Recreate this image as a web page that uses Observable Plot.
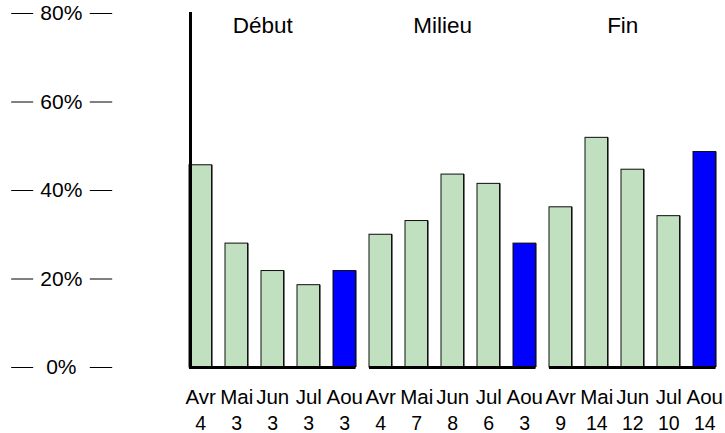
<!DOCTYPE html>
<html>
<head>
<meta charset="utf-8">
<script src="https://cdn.jsdelivr.net/npm/d3@7"></script>
<script src="https://cdn.jsdelivr.net/npm/@observablehq/plot@0.6"></script>
<style>
  html, body { margin: 0; padding: 0; background: #fff; }
  #chart { width: 725px; height: 433px; overflow: hidden; }
</style>
</head>
<body>
<div id="chart"></div>
<script>
const periods = ["Début", "Milieu", "Fin"];
const months = ["Avr", "Mai", "Jun", "Jul", "Aou"];
const debutValues = [45.7, 28.0, 21.8, 18.6, 21.8];
const milieuValues = [30.0, 33.1, 43.6, 41.5, 28.0];
const finValues = [36.2, 51.9, 44.7, 34.2, 48.7];
const debutCounts = [4, 3, 3, 3, 3];
const milieuCounts = [4, 7, 8, 6, 3];
const finCounts = [9, 14, 12, 10, 14];
const yTicks = [0, 20, 40, 60, 80];
const highlightMonth = "Aou";

const valuesByPeriod = [debutValues, milieuValues, finValues];
const countsByPeriod = [debutCounts, milieuCounts, finCounts];
const data = periods.flatMap((p, i) => months.map((m, j) => ({
  period: p, month: m, value: valuesByPeriod[i][j], count: countsByPeriod[i][j]
})));

const font = "'Liberation Sans', Arial, Helvetica, sans-serif";

const chart = Plot.plot({
  width: 725,
  height: 433,
  marginLeft: 189,
  marginRight: 9.5,
  marginTop: 13,
  marginBottom: 66,
  style: { fontFamily: font, fontSize: "21px", background: "#fff", color: "#000" },
  fx: { domain: periods, axis: null, paddingInner: 0.075, paddingOuter: 0, round: false, label: null },
  x: { domain: months, axis: null, paddingInner: 0.375, paddingOuter: 0, round: false, label: null },
  y: { domain: [0, 80], label: null },
  marks: [
    // outer tick segments (left)
    Plot.axisY(yTicks, { tickSize: 22, fill: "none", dx: -155.8, label: null, strokeWidth: 1 }),
    // inner tick segments (right)
    Plot.axisY(yTicks, { tickSize: 22.4, fill: "none", dx: -76.8, label: null, strokeWidth: 1 }),
    // tick labels
    Plot.axisY(yTicks, { tickSize: 0, tickPadding: 0, textAnchor: "middle", dx: -128.2,
      tickFormat: d => d + "%", fontSize: 21, label: null }),
    // shadow of bars
    Plot.barY(data, { fx: "period", x: "month", y: "value", fill: "#777", dx: 1.5, dy: 0 }),
    Plot.barY(data, {
      fx: "period", x: "month", y: "value",
      fill: d => d.month === highlightMonth ? "#0000ff" : "#c1e0c0",
      stroke: "#111", strokeWidth: 1
    }),
    Plot.ruleY([0], { strokeWidth: 3, stroke: "#000" }),
    Plot.frame({ anchor: "left", facetAnchor: "left", strokeWidth: 3, stroke: "#000", dx: 1 }),
    Plot.text(periods, { fx: d => d, text: d => d, frameAnchor: "top", dy: 12, dx: -10,
      lineAnchor: "middle", fontSize: 22.5 }),
    Plot.text(data, { fx: "period", x: "month", text: "month", frameAnchor: "bottom",
      dy: 29.5, lineAnchor: "middle", fontSize: 20.5 }),
    Plot.text(data, { fx: "period", x: "month", text: d => String(d.count), frameAnchor: "bottom",
      dy: 56.5, lineAnchor: "middle", fontSize: 19.5 })
  ]
});
document.getElementById("chart").append(chart);
</script>
</body>
</html>
